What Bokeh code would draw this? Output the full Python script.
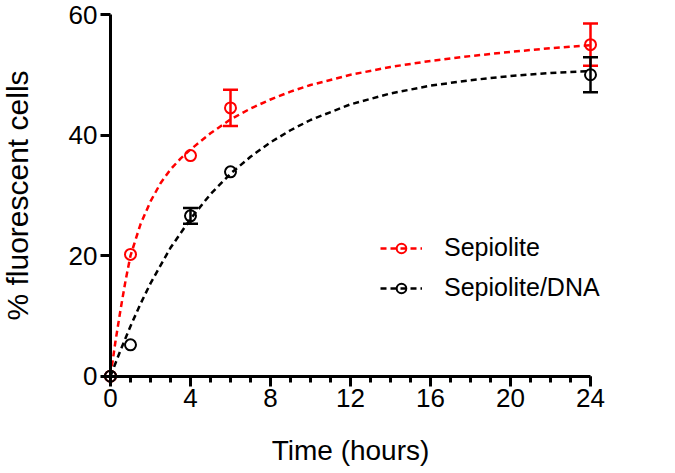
from bokeh.plotting import figure
from bokeh.models import (ColumnDataSource, Whisker, TeeHead, Legend, LegendItem,
                          Range1d, FixedTicker)
from bokeh.embed import file_html
from bokeh.resources import INLINE

# measured data
time = [0, 1, 4, 6, 24]
sep = [0, 20.2, 36.6, 44.5, 55.0]
sep_err = [0, 0, 0, 3.0, 3.5]
dna = [0, 5.2, 26.6, 33.9, 50.0]
dna_err = [0, 0, 1.3, 0, 2.9]

# fitted curves
fit_t_sep = [0, 0.25, 0.5, 0.75, 1, 1.5, 2, 2.5, 3, 3.5, 4, 5, 6, 7, 8, 9, 10, 12, 14, 16, 18, 20, 22, 24]
fit_sep = [0, 5.8, 11, 15.8, 20, 25.2, 29, 32, 34.3, 36.1, 37.6, 40.3, 42.6, 44.4, 45.9, 47.2, 48.3,
           50, 51.3, 52.3, 53.1, 53.8, 54.4, 54.9]
fit_t_dna = [0, 0.5, 1, 1.5, 2, 3, 4, 5, 6, 7, 8, 9, 10, 12, 14, 16, 18, 20, 22, 24]
fit_dna = [0, 4.3, 8.3, 12, 15.4, 21.3, 26.1, 30.2, 33.6, 36.4, 38.8, 40.8, 42.5, 45.1, 46.9,
           48.2, 49.1, 49.8, 50.3, 50.6]

x_ticks = [0, 4, 8, 12, 16, 20, 24]
x_minor = list(range(0, 25))
y_ticks = [0, 20, 40, 60]

series_names = ["Sepiolite", "Sepiolite/DNA"]
FONT = "Liberation Sans"

p = figure(frame_width=670, frame_height=470, output_backend="svg", toolbar_location=None,
           x_range=Range1d(-5.5, 28.0), y_range=Range1d(-15.64, 62.32),
           min_border_left=0, min_border_right=0, min_border_top=0, min_border_bottom=0)
p.outline_line_color = None
p.grid.visible = False

for ax in (p.xaxis[0], p.yaxis[0]):
    ax.fixed_location = 0
    ax.axis_line_width = 3
    ax.major_tick_line_width = 3
    ax.minor_tick_line_width = 3
    ax.major_tick_in = 0
    ax.minor_tick_in = 0
    ax.major_tick_out = 10
    ax.minor_tick_out = 6
    ax.major_label_text_font = FONT
    ax.major_label_text_font_size = "26px"
    ax.major_label_text_color = "black"
    ax.axis_label_text_font = FONT
    ax.axis_label_text_font_style = "normal"
    ax.axis_label_text_color = "black"

p.xaxis[0].axis_label_text_font_size = "28px"
p.yaxis[0].axis_label_text_font_size = "30px"
p.xaxis[0].bounds = (0, 24)
p.yaxis[0].bounds = (0, 60)
p.xaxis[0].ticker = FixedTicker(ticks=x_ticks, minor_ticks=x_minor)
p.yaxis[0].ticker = FixedTicker(ticks=y_ticks, minor_ticks=[])
p.xaxis[0].axis_label = "Time (hours)"
p.yaxis[0].axis_label = "% fluorescent cells"
p.xaxis[0].major_label_standoff = 3
p.yaxis[0].major_label_standoff = 3
p.xaxis[0].axis_label_standoff = 24
p.yaxis[0].axis_label_standoff = 32

items = []
for name, t_fit, y_fit, yv, ev, col in [
    (series_names[0], fit_t_sep, fit_sep, sep, sep_err, "#ff0000"),
    (series_names[1], fit_t_dna, fit_dna, dna, dna_err, "black"),
]:
    lr = p.line(t_fit, y_fit, line_color=col, line_width=2.5, line_dash="6 4")
    idx = [i for i, e in enumerate(ev) if e > 0]
    src = ColumnDataSource(dict(
        t=[time[i] for i in idx],
        u=[yv[i] + ev[i] for i in idx],
        l=[yv[i] - ev[i] for i in idx],
    ))
    w = Whisker(base="t", upper="u", lower="l", source=src, dimension="height",
                line_color=col, line_width=2.5,
                upper_head=TeeHead(size=15, line_color=col, line_width=2.5),
                lower_head=TeeHead(size=15, line_color=col, line_width=2.5))
    p.add_layout(w)
    sr = p.scatter(time, yv, marker="circle", size=11, line_color=col,
                   fill_color=None, line_width=2)
    items.append(LegendItem(label=name, renderers=[lr, sr]))

legend = Legend(items=items, location=(380, 168), orientation="vertical",
                glyph_width=42, glyph_height=24, label_height=24, spacing=11,
                label_standoff=22, padding=0, margin=0,
                label_text_font=FONT, label_text_font_size="25px",
                label_text_color="black",
                border_line_color=None, background_fill_alpha=0)
p.add_layout(legend, "center")

open("out.html", "w").write(file_html(p, INLINE))
